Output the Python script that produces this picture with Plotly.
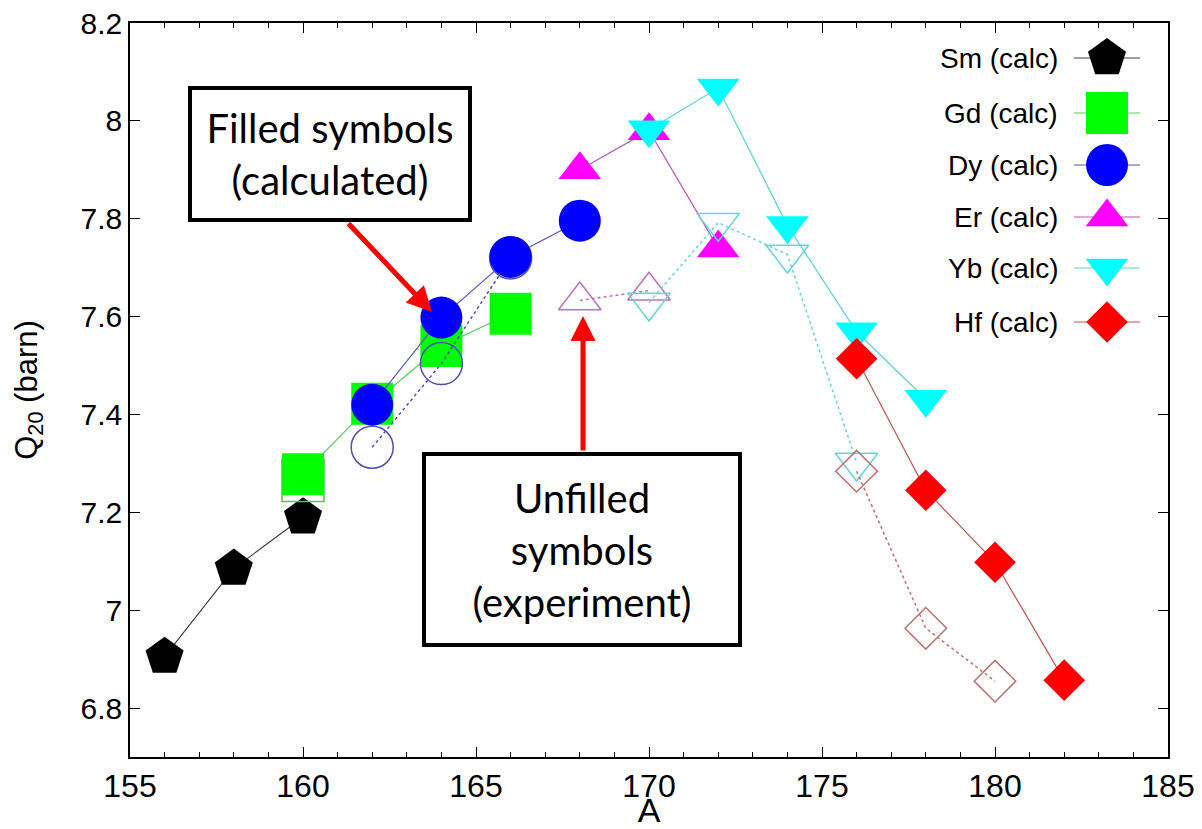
import plotly.graph_objects as go

# ---------------- data ----------------
sm_A = [156, 158, 160]
sm_calc = [6.905, 7.085, 7.19]

gd_A = [160, 162, 164, 166]
gd_calc = [7.278, 7.422, 7.54, 7.606]
gd_exp_A = [160]
gd_exp = [7.265]

dy_A = [162, 164, 166, 168]
dy_calc = [7.42, 7.598, 7.722, 7.796]
dy_exp_A = [162, 164, 166]
dy_exp = [7.333, 7.504, 7.72]

er_A = [168, 170, 172]
er_calc = [7.90, 7.98, 7.74]
er_exp_A = [168, 170]
er_exp = [7.633, 7.653]

yb_A = [170, 172, 174, 176, 178]
yb_calc = [7.982, 8.067, 7.786, 7.569, 7.431]
yb_exp_A = [170, 172, 174, 176]
yb_exp = [7.629, 7.792, 7.727, 7.302]

hf_A = [176, 178, 180, 182]
hf_calc = [7.514, 7.245, 7.098, 6.857]
hf_exp_A = [176, 178, 180]
hf_exp = [7.284, 6.963, 6.855]

legend_names = ["Sm (calc)", "Gd (calc)", "Dy (calc)", "Er (calc)", "Yb (calc)", "Hf (calc)"]

# ---------------- styles ----------------
W, H = 1202, 829
L, R, T, B = 130, 34, 23, 72
PX0, PX1, PY0, PY1 = L, W - R, T, H - B

series = [
    # name, A, calc, expA, exp, symbol, size, fill, line color, exp color
    ("Sm", sm_A, sm_calc, [], [], "pentagon", 40, "#000000", "#404040", "#404040"),
    ("Gd", gd_A, gd_calc, gd_exp_A, gd_exp, "square", 42, "#00ff00", "#50d050", "#40d040"),
    ("Dy", dy_A, dy_calc, dy_exp_A, dy_exp, "circle", 42, "#0000ff", "#5555c0", "#5050b0"),
    ("Er", er_A, er_calc, er_exp_A, er_exp, "triangle-up", 37, "#ff00ff", "#c055c0", "#c070c0"),
    ("Yb", yb_A, yb_calc, yb_exp_A, yb_exp, "triangle-down", 37, "#00ffff", "#55d5d5", "#60d8d8"),
    ("Hf", hf_A, hf_calc, hf_exp_A, hf_exp, "diamond", 32, "#ff0000", "#c05555", "#c07070"),
]

fig = go.Figure()

for name, A, calc, eA, ev, sym, size, fill, lcol, ecol in series:
    if eA:
        fig.add_trace(go.Scatter(
            x=eA, y=ev, mode="lines+markers", showlegend=False,
            line=dict(color=ecol, width=1.5, dash="dot"),
            marker=dict(symbol=sym + "-open", size=size, color=ecol, line=dict(width=1.5)),
        ))
    fig.add_trace(go.Scatter(
        x=A, y=calc, mode="lines+markers", showlegend=False,
        line=dict(color=lcol, width=1.2),
        marker=dict(symbol=sym, size=size, color=fill, line=dict(width=0)),
    ))

# ---------------- manual legend (text left of key) ----------------
row_y = [58, 113, 165, 217, 268, 322]
key_x0, key_x1, key_xc, text_right = 1074, 1140, 1107, 1060
annotations = []
for (name, A, calc, eA, ev, sym, size, fill, lcol, ecol), ry, lab in zip(series, row_y, legend_names):
    fig.add_trace(go.Scatter(
        x=[key_x0, key_x1], y=[ry, ry], xaxis="x2", yaxis="y2", mode="lines",
        line=dict(color=lcol, width=1.2), showlegend=False, hoverinfo="skip"))
    fig.add_trace(go.Scatter(
        x=[key_xc], y=[ry], xaxis="x2", yaxis="y2", mode="markers",
        marker=dict(symbol=sym, size=size, color=fill, line=dict(width=0)),
        showlegend=False, hoverinfo="skip"))
    annotations.append(dict(
        x=text_right, y=ry, xref="x2", yref="y2", text=lab, showarrow=False,
        xanchor="right", yanchor="middle",
        font=dict(family="Liberation Sans, Arial, sans-serif", size=28, color="black")))

# ---------------- callout boxes and arrows ----------------
box_font = dict(family="Lato, Open Sans, sans-serif", size=40, color="black")
annotations.append(dict(
    x=330, y=154, xref="x2", yref="y2", text="Filled symbols<br>(calculated)",
    showarrow=False, xanchor="center", yanchor="middle", align="center",
    width=276, height=128, borderpad=0, borderwidth=4, bordercolor="black",
    bgcolor="white", font=box_font))
annotations.append(dict(
    x=582, y=549, xref="x2", yref="y2", text="Unfilled<br>symbols<br>(experiment)",
    showarrow=False, xanchor="center", yanchor="middle", align="center",
    width=312, height=187, borderpad=0, borderwidth=4, bordercolor="black",
    bgcolor="white", font=box_font))
annotations.append(dict(
    x=432, y=312, xref="x2", yref="y2", ax=347, ay=222, axref="x2", ayref="y2",
    text="", showarrow=True, arrowhead=2, arrowsize=1, arrowwidth=5,
    arrowcolor="#ff0000", standoff=0, startstandoff=0))
annotations.append(dict(
    x=583, y=316, xref="x2", yref="y2", ax=583, ay=452, axref="x2", ayref="y2",
    text="", showarrow=True, arrowhead=2, arrowsize=1, arrowwidth=5,
    arrowcolor="#ff0000", standoff=0, startstandoff=0))

axis_font = dict(family="Liberation Sans, Arial, sans-serif", size=30, color="black")

fig.update_layout(
    width=W, height=H,
    margin=dict(l=L, r=R, t=T, b=B, autoexpand=False),
    paper_bgcolor="white", plot_bgcolor="white",
    showlegend=False,
    annotations=annotations,
    xaxis=dict(
        range=[155, 185], dtick=5, tick0=155, ticks="inside", ticklen=10, tickwidth=1.2,
        tickcolor="black", showline=True, linecolor="black", linewidth=1.5,
        mirror="allticks", showgrid=False, zeroline=False,
        minor=dict(dtick=1, ticks="inside", ticklen=5, tickwidth=1.2, tickcolor="black", showgrid=False),
        tickfont=dict(family="Liberation Sans, Arial, sans-serif", size=32, color="black"),
        title=dict(text="A", font=dict(family="Liberation Sans, Arial, sans-serif", size=34, color="black"), standoff=8),
    ),
    yaxis=dict(
        range=[6.7, 8.2], dtick=0.2, tick0=6.8, ticks="inside", ticklen=10, tickwidth=1.2,
        tickcolor="black", showline=True, linecolor="black", linewidth=1.5,
        mirror="allticks", showgrid=False, zeroline=False,
        tickfont=axis_font,
        title=dict(text="Q<sub>20</sub> (barn)", font=dict(family="Liberation Sans, Arial, sans-serif", size=31, color="black"), standoff=34),
    ),
    xaxis2=dict(range=[PX0, PX1], overlaying="x", visible=False, fixedrange=True),
    yaxis2=dict(range=[PY1, PY0], overlaying="y", visible=False, fixedrange=True),
)

fig.write_html("out.html")
